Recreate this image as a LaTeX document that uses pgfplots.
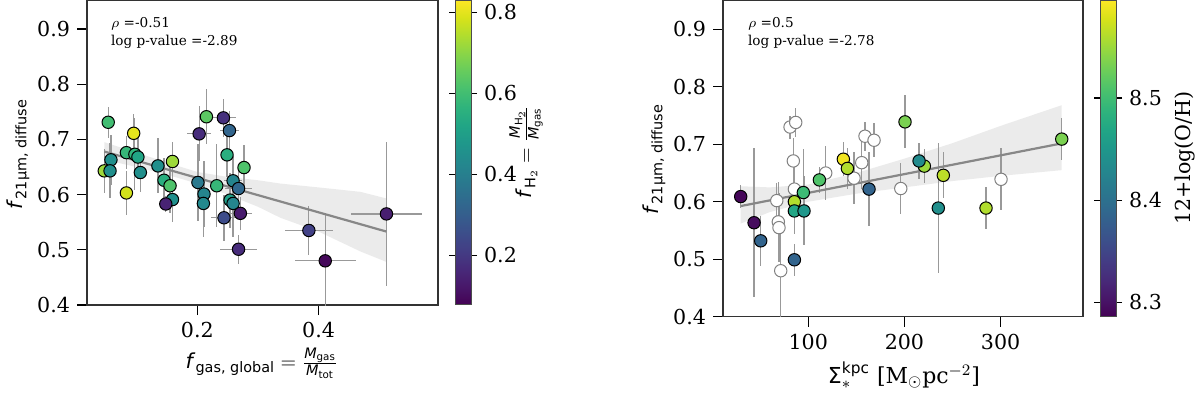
\documentclass[border=0pt]{standalone}
\usepackage{amsmath}
\usepackage{fontspec}
\setmainfont{DejaVu Serif}
\setsansfont{DejaVu Sans}
\usepackage{pgfplots}
\usepackage{pgfplotstable}
\pgfplotsset{compat=1.18}

% left panel: x, y, errors, f_H2
\pgfplotstableread{
x y ex ey c
0.053 0.731 0 0.028 0.60
0.095 0.711 0 0.035 0.80
0.083 0.676 0.005 0.030 0.58
0.097 0.673 0 0.065 0.57
0.102 0.668 0 0.040 0.52
0.0575 0.663 0 0.045 0.45
0.0465 0.643 0 0.040 0.72
0.056 0.643 0 0.050 0.45
0.106 0.640 0 0.035 0.45
0.083 0.603 0 0.040 0.78
0.135 0.652 0 0.050 0.45
0.159 0.660 0 0.035 0.72
0.145 0.626 0 0.040 0.55
0.155 0.616 0 0.050 0.62
0.159 0.591 0 0.040 0.45
0.148 0.583 0.012 0.015 0.15
0.203 0.710 0.020 0.050 0.17
0.215 0.741 0 0.050 0.64
0.243 0.739 0.020 0.035 0.18
0.253 0.716 0.016 0.035 0.32
0.249 0.672 0 0.040 0.55
0.277 0.649 0.010 0.040 0.62
0.201 0.622 0 0.070 0.38
0.211 0.601 0 0.060 0.42
0.210 0.584 0 0.060 0.43
0.232 0.616 0 0.075 0.58
0.259 0.625 0.015 0.045 0.42
0.268 0.611 0.022 0.040 0.33
0.254 0.590 0 0.050 0.50
0.259 0.584 0 0.060 0.42
0.244 0.558 0.022 0.042 0.25
0.271 0.566 0.020 0.030 0.13
0.268 0.501 0.030 0.026 0.17
0.384 0.535 0.040 0.044 0.22
0.411 0.480 0.050 0.086 0.09
0.512 0.565 0.058 0.130 0.14
}\gasdata

% right panel, with metallicity
\pgfplotstableread{
x y ey c
29.8 0.609 0.020 8.29
43.7 0.5635 0.130 8.295
50.6 0.532 0.043 8.385
85.6 0.499 0.028 8.385
85.6 0.600 0.050 8.56
85.6 0.584 0.040 8.47
95.6 0.584 0.060 8.45
94.9 0.616 0.075 8.497
111.6 0.638 0.022 8.51
136.5 0.674 0.030 8.59
140.7 0.658 0.035 8.56
163.2 0.622 0.065 8.385
200.6 0.739 0.046 8.534
220.7 0.662 0.030 8.55
215.2 0.671 0.032 8.435
240.4 0.646 0.040 8.565
235.2 0.589 0.113 8.44
284.8 0.589 0.036 8.56
363.5 0.709 0.036 8.534
}\metdata

% right panel, no metallicity
\pgfplotstableread{
x y ey
67.3 0.602 0.030
68.9 0.565 0.070
69.6 0.555 0.060
71.4 0.480 0.080
81.1 0.730 0.020
87.0 0.738 0.025
84.5 0.671 0.040
85.6 0.622 0.050
118.2 0.650 0.047
147.6 0.641 0.045
155.6 0.668 0.045
159.0 0.714 0.025
168.4 0.707 0.030
196.2 0.623 0.044
300.4 0.639 0.054
}\nometdata

\newcommand{\lab}{\fontsize{10.3}{12}\selectfont}
\newcommand{\sm}{\fontsize{6.8}{8}\selectfont}

\pgfplotsset{
  colorbar shift/.style={},
  panel/.style={
    scale only axis, anchor=north west,
    axis line style={black!80, line width=0.6pt},
    tick align=outside, tick pos=left, major tick length=5pt,
    tick style={black, line width=0.6pt},
    ticklabel style={font=\lab},
    /pgf/number format/assume math mode=true,
    ymin=0.4, ytick={0.4,0.5,0.6,0.7,0.8,0.9},
    yticklabel style={/pgf/number format/.cd, fixed, fixed zerofill, precision=1},
    colormap name=viridis,
    colorbar right,
  },
  cbar/.style={
    at={([xshift=13pt]parent axis.north east)}, anchor=north west,
    width=8pt, scale only axis,
    axis line style={black!70, line width=0.5pt},
    tick align=outside, major tick length=3pt,
    tick style={black, line width=0.6pt},
    yticklabel style={font=\lab},
    /pgf/number format/assume math mode=true,
  },
  pts/.style={scatter, only marks, mark=*, mark size=3.1pt,
    point meta=explicit,
    scatter/use mapped color={draw=black, fill=mapped color},
    mark options={line width=0.5pt}},
  errs/.style={only marks, mark=none,
    error bars/.cd, x dir=both, x explicit, y dir=both, y explicit,
    error mark=none, error bar style={color=black!40, line width=0.6pt}},
}

\begin{document}
\begin{tikzpicture}
\useasboundingbox (0,0) rectangle (600pt,-196pt);

\begin{axis}[panel, at={(43.5pt,0pt)}, width=175.5pt, height=152.5pt,
  xmin=0.018, xmax=0.597, ymax=0.9525, xtick={0.2,0.4},
  xticklabel style={/pgf/number format/.cd, fixed, fixed zerofill, precision=1},
  point meta min=0.077, point meta max=0.83,
  colorbar style={cbar, ytick={0.2,0.4,0.6,0.8},
    yticklabel style={/pgf/number format/.cd, fixed, fixed zerofill, precision=1}}]
  \addplot[fill=black!8, draw=none] coordinates {
    (0.0465,0.695) (0.1,0.676) (0.15,0.658) (0.2,0.641) (0.25,0.632) (0.3,0.626)
    (0.337,0.620) (0.4,0.613) (0.469,0.605) (0.512,0.593)
    (0.512,0.478) (0.469,0.497) (0.4,0.533) (0.337,0.558) (0.3,0.578)
    (0.25,0.600) (0.2,0.620) (0.15,0.636) (0.1,0.650) (0.0465,0.663)} --cycle;
  \addplot[errs] table[x=x, y=y, x error=ex, y error=ey] {\gasdata};
  \addplot[pts] table[x=x, y=y, meta=c] {\gasdata};
  \addplot[black!47, line width=1.1pt] coordinates {(0.0465,0.678) (0.512,0.533)};
\end{axis}

\begin{axis}[panel, at={(361.5pt,0pt)}, width=180pt, height=158.35pt,
  xmin=11.4, xmax=385.6, ymax=0.951, xtick={100,200,300},
  point meta min=8.286, point meta max=8.596,
  colorbar style={cbar, ytick={8.3,8.4,8.5},
    yticklabel style={/pgf/number format/.cd, fixed, fixed zerofill, precision=1}}]
  \addplot[fill=black!8, draw=none] coordinates {
    (29.8,0.627) (60,0.625) (100,0.630) (150,0.650) (200,0.675) (250,0.702)
    (300,0.732) (363.5,0.768)
    (363.5,0.655) (300,0.645) (250,0.636) (200,0.625) (150,0.614) (100,0.600)
    (60,0.582) (29.8,0.562)} --cycle;
  \addplot[errs] table[x=x, y=y, y error=ey] {\nometdata};
  \addplot[errs] table[x=x, y=y, y error=ey] {\metdata};
  \addplot[only marks, mark=*, mark size=3.1pt,
    mark options={fill=white, draw=black!50, line width=0.5pt}]
    table[x=x, y=y] {\nometdata};
  \addplot[pts] table[x=x, y=y, meta=c] {\metdata};
  \addplot[black!47, line width=1.1pt] coordinates {(29.8,0.5925) (363.5,0.7015)};
\end{axis}

% annotations and labels
\node[anchor=west, font=\sm] at (52pt,-12pt) {$\rho$ =-0.51};
\node[anchor=west, font=\sm] at (52pt,-21pt) {log p-value =-2.89};
\node[anchor=west, font=\sm] at (370.5pt,-12pt) {$\rho$ =0.5};
\node[anchor=west, font=\sm] at (370.5pt,-21pt) {log p-value =-2.78};

\node[rotate=90, font=\lab] at (9pt,-77pt)
  {$\textsf{\textit{f}}_{\textsf{21µm, diffuse}}$};
\node[rotate=90, font=\lab] at (327pt,-79.5pt)
  {$\textsf{\textit{f}}_{\textsf{21µm, diffuse}}$};
\node[font=\lab] at (131pt,-181.5pt)
  {$\textsf{\textit{f}}_{\textsf{gas, global}} = \frac{\textsf{\textit{M}}_{\textsf{gas}}}{\textsf{\textit{M}}_{\textsf{tot}}}$};
\node[font=\fontsize{11}{13}\selectfont] at (452pt,-187.5pt)
  {$\textsf{Σ}_{*}^{\textsf{kpc}}$ [M$_{\odot}$pc$^{-2}$]};
\node[rotate=90, font=\lab] at (263pt,-76pt)
  {$\textsf{\textit{f}}_{\textsf{H}_2} = \frac{\textsf{\textit{M}}_{\textsf{H}_2}}{\textsf{\textit{M}}_{\textsf{gas}}}$};
\node[rotate=90, font=\lab] at (592.5pt,-79pt) {12+log(O/H)};
\end{tikzpicture}
\end{document}
